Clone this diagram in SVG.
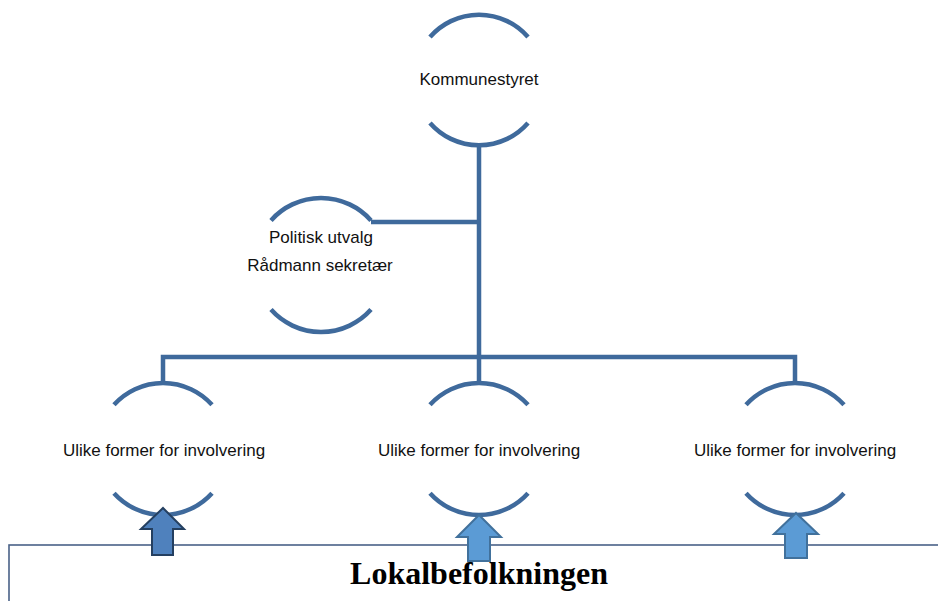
<svg xmlns="http://www.w3.org/2000/svg" width="938" height="601" viewBox="0 0 938 601">
<style>
.arc{fill:none;stroke:#3F6A9C;stroke-width:4.5}
.conn{fill:none;stroke:#3F6A9C;stroke-width:4.5}
.lbl{font-family:"Liberation Sans",Arial,sans-serif;font-size:17px;fill:#111;text-anchor:middle}
.title{font-family:"Liberation Serif","Times New Roman",serif;font-size:32px;font-weight:bold;fill:#000;text-anchor:middle}
.arrowA{fill:#4F81BD;stroke:#243F60;stroke-width:2}
.arrowB{fill:#5B9BD5;stroke:#41719C;stroke-width:2}
</style>
<rect width="938" height="601" fill="#fff"/>
<g id="connectors">
<line class="conn" x1="479" y1="145" x2="479" y2="359"/>
<line class="conn" x1="371" y1="222" x2="481" y2="222"/>
<polyline class="conn" points="163,384 163,357 795,357 795,384"/>
<line class="conn" x1="479" y1="357" x2="479" y2="384"/>
</g>
<g id="node-kommunestyret">
<path class="arc" d="M430 37 A65 65 0 0 1 528 37"/>
<path class="arc" d="M430 123 A65 65 0 0 0 528 123"/>
<text class="lbl" x="479" y="85">Kommunestyret</text>
</g>
<g id="node-politisk">
<path class="arc" d="M271 220.4 A67 67 0 0 1 371 220.4"/>
<path class="arc" d="M271 309.6 A67 67 0 0 0 371 309.6"/>
<text class="lbl" x="321" y="243">Politisk utvalg</text>
<text class="lbl" x="320" y="271">Rådmann sekretær</text>
</g>
<g id="node-left">
<path class="arc" d="M114 404.8 A66 66 0 0 1 212 404.8"/>
<path class="arc" d="M114 493.2 A66 66 0 0 0 212 493.2"/>
<text class="lbl" x="164" y="456">Ulike former for involvering</text>
</g>
<g id="node-mid">
<path class="arc" d="M430 404.8 A66 66 0 0 1 528 404.8"/>
<path class="arc" d="M430 493.2 A66 66 0 0 0 528 493.2"/>
<text class="lbl" x="479" y="456">Ulike former for involvering</text>
</g>
<g id="node-right">
<path class="arc" d="M746 404.8 A66 66 0 0 1 844 404.8"/>
<path class="arc" d="M746 493.2 A66 66 0 0 0 844 493.2"/>
<text class="lbl" x="795" y="456">Ulike former for involvering</text>
</g>
<g id="node-lokalbefolkningen">
<rect x="9" y="545" width="940" height="80" fill="none" stroke="#4A6288" stroke-width="1.6"/>
<text class="title" x="479" y="584">Lokalbefolkningen</text>
</g>
<g id="arrows">
<polygon class="arrowA" points="163,508 184,529 173,529 173,555 152,555 152,529 141,529"/>
<polygon class="arrowB" points="479,515 501,537 490,537 490,561 468,561 468,537 457,537"/>
<polygon class="arrowB" points="796,513 818,534 807,534 807,558 785,558 785,534 774,534"/>
</g>
</svg>
